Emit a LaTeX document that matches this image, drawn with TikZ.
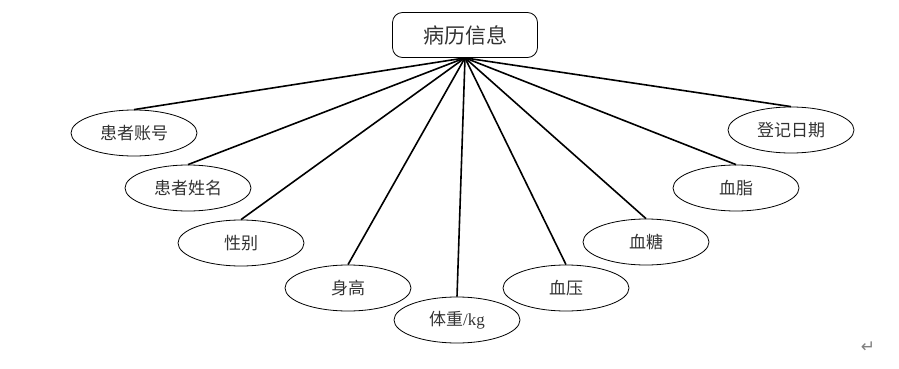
\documentclass[tikz,border=0pt]{standalone}
\usepackage{fontspec}
\newfontfamily\cjk{Noto Sans CJK SC}
\newfontfamily\lat{Liberation Serif}
\newfontfamily\symf{DejaVu Sans}
\usetikzlibrary{shapes.geometric}
\tikzset{
  attr/.style={ellipse, draw, line width=0.8pt, inner sep=0pt, minimum width=126pt, minimum height=46pt, font=\cjk\fontsize{17}{17}\selectfont, text=black!80},
  ent/.style={draw, rounded corners=10pt, line width=0.8pt, minimum width=145pt, minimum height=45pt, font=\cjk\fontsize{21}{21}\selectfont, text=black!80},
  link/.style={line width=1.6pt}
}
\begin{document}
\begin{tikzpicture}[x=1pt,y=-1pt]
\useasboundingbox (0,0) rectangle (899,369);
\node[ent] (top) at (465,35) {病历信息};
\node[attr] (a1) at (134,133) {患者账号};
\node[attr] (a2) at (188,188) {患者姓名};
\node[attr] (a3) at (241,243) {性别};
\node[attr] (a4) at (348,288) {身高};
\node[attr] (a5) at (457,320) {体重{\lat/kg}};
\node[attr] (a6) at (566,288) {血压};
\node[attr] (a7) at (646,242) {血糖};
\node[attr] (a8) at (736,188) {血脂};
\node[attr] (a9) at (791,130) {登记日期};
\foreach \n in {a1,a2,a3,a4,a5,a6,a7,a8,a9}
  \draw[link] (top.south) -- (\n.north);
\node[font=\symf\fontsize{17}{17}\selectfont, text=black!50] (ret) at (868,347) {↵};
\end{tikzpicture}
\end{document}
